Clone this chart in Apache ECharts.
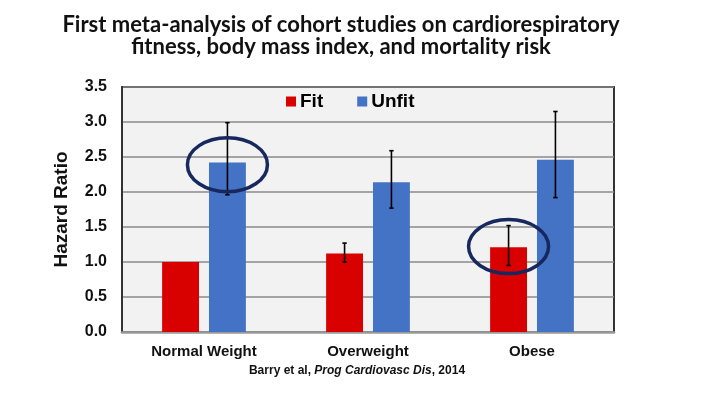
<!DOCTYPE html>
<html>
<head>
<meta charset="utf-8">
<script src="https://cdn.jsdelivr.net/npm/echarts@6/dist/echarts.min.js"></script>
<style>
html,body{margin:0;padding:0;background:#fff;}
#chart{width:703px;height:393px;}
</style>
</head>
<body>
<div id="chart"></div>
<script>
// ---- data ----
var categories = ['Normal Weight', 'Overweight', 'Obese'];
var seriesNames = ['Fit', 'Unfit'];
var fitValues = [1.0, 1.12, 1.21];
var unfitValues = [2.42, 2.14, 2.46];
var fitLow = [null, 1.0, 0.95];
var fitHigh = [null, 1.27, 1.52];
var unfitLow = [1.96, 1.77, 1.92];
var unfitHigh = [2.99, 2.59, 3.15];
var yTicks = [0, 0.5, 1.0, 1.5, 2.0, 2.5, 3.0, 3.5];
var highlightCats = [0, 2];
var highlightSeries = [1, 0];      // 0 = Fit, 1 = Unfit
var highlightValues = [2.39, 1.22];
var titleLines = ['First meta-analysis of cohort studies on cardiorespiratory',
                  'fitness, body mass index, and mortality risk'];

// ---- layout / style constants ----
var BAR_W = 0.225, BAR_GAP = 0.27;
function barOffset(band, idx) {
  var w = band * BAR_W;
  var off = (w + w * BAR_GAP) / 2;
  return idx === 0 ? -off : off;
}

function errData(lo, hi) {
  var d = [];
  for (var i = 0; i < categories.length; i++) {
    if (lo[i] != null && hi[i] != null) d.push([i, lo[i], hi[i]]);
  }
  return d;
}

function errRender(idx) {
  return function (params, api) {
    var c = api.value(0), lo = api.value(1), hi = api.value(2);
    var band = api.size([1, 0])[0];
    var off = barOffset(band, idx);
    var pHi = api.coord([c, hi]);
    var pLo = api.coord([c, lo]);
    var x = pHi[0] + off;
    var cap = 2.2;
    var st = { stroke: '#000', lineWidth: 1.6 };
    return {
      type: 'group',
      children: [
        { type: 'line', shape: { x1: x, y1: pHi[1], x2: x, y2: pLo[1] }, style: st },
        { type: 'line', shape: { x1: x - cap, y1: pHi[1], x2: x + cap, y2: pHi[1] }, style: st },
        { type: 'line', shape: { x1: x - cap, y1: pLo[1], x2: x + cap, y2: pLo[1] }, style: st }
      ]
    };
  };
}

var ellipseData = [];
for (var k = 0; k < highlightCats.length; k++) {
  ellipseData.push([highlightCats[k], highlightValues[k], highlightSeries[k]]);
}

var chart = echarts.init(document.getElementById('chart'), null, { renderer: 'canvas' });
var option = {
  backgroundColor: '#ffffff',
  animation: false,
  graphic: [
    { type: 'text', x: 341, y: 24.5, style: { text: titleLines[0], fontFamily: 'Lato', fontWeight: 'bold', fontSize: 22, fill: '#111', textAlign: 'center', textVerticalAlign: 'middle' } },
    { type: 'text', x: 341, y: 46.5, style: { text: titleLines[1], fontFamily: 'Lato', fontWeight: 'bold', fontSize: 22, fill: '#111', textAlign: 'center', textVerticalAlign: 'middle' } },
    { type: 'text', x: 357, y: 371, style: {
        text: '{b|Barry et al, }{i|Prog Cardiovasc Dis}{b|, 2014}',
        rich: {
          b: { fontFamily: 'Liberation Sans', fontWeight: 'bold', fontSize: 12, fill: '#111' },
          i: { fontFamily: 'Liberation Sans', fontWeight: 'bold', fontStyle: 'italic', fontSize: 12, fill: '#111' }
        },
        textAlign: 'center', textVerticalAlign: 'middle' } }
  ],
  legend: {
    data: seriesNames,
    left: 286,
    top: 92,
    padding: 0,
    itemWidth: 10,
    itemHeight: 10,
    itemGap: 34,
    icon: 'rect',
    textStyle: { fontFamily: 'Liberation Sans', fontWeight: 'bold', fontSize: 19, color: '#000', padding: [0, 0, 0, -1] }
  },
  grid: {
    left: 122, top: 87, width: 492, height: 245,
    show: true, backgroundColor: '#f2f2f2', borderColor: '#333', borderWidth: 2,
    containLabel: false
  },
  xAxis: {
    type: 'category',
    data: categories,
    axisTick: { show: false },
    axisLine: { show: true, lineStyle: { color: '#999', width: 2.5 } },
    axisLabel: { fontFamily: 'Liberation Sans', fontWeight: 'bold', fontSize: 15, color: '#111', margin: 12 }
  },
  yAxis: {
    type: 'value',
    min: yTicks[0],
    max: yTicks[yTicks.length - 1],
    interval: yTicks[1] - yTicks[0],
    name: 'Hazard Ratio',
    nameLocation: 'middle',
    nameGap: 51,
    nameTextStyle: { fontFamily: 'Liberation Sans', fontWeight: 'bold', fontSize: 19, color: '#111' },
    axisLine: { show: true, lineStyle: { color: '#333', width: 2 } },
    axisTick: { show: false },
    splitLine: { lineStyle: { color: '#8a8a8a', width: 1.5 } },
    axisLabel: {
      fontFamily: 'Liberation Sans', fontWeight: 'bold', fontSize: 16, color: '#111', margin: 15,
      formatter: function (v) { return v.toFixed(1); }
    }
  },
  series: [
    {
      name: seriesNames[0], type: 'bar', data: fitValues,
      barWidth: (BAR_W * 100) + '%', barGap: (BAR_GAP * 100) + '%',
      itemStyle: { color: '#d90000' }
    },
    {
      name: seriesNames[1], type: 'bar', data: unfitValues,
      barWidth: (BAR_W * 100) + '%', barGap: (BAR_GAP * 100) + '%',
      itemStyle: { color: '#4472c4' }
    },
    {
      type: 'custom', name: 'fitErr', data: errData(fitLow, fitHigh),
      renderItem: errRender(0), encode: { x: 0, y: [1, 2] }, z: 5, silent: true, clip: false
    },
    {
      type: 'custom', name: 'unfitErr', data: errData(unfitLow, unfitHigh),
      renderItem: errRender(1), encode: { x: 0, y: [1, 2] }, z: 5, silent: true, clip: false
    },
    {
      type: 'custom', name: 'highlight', data: ellipseData, encode: { x: 0, y: 1 }, z: 6, silent: true, clip: false,
      renderItem: function (params, api) {
        var c = api.value(0), v = api.value(1), s = api.value(2);
        var band = api.size([1, 0])[0];
        var p = api.coord([c, v]);
        return {
          type: 'ellipse',
          shape: { cx: p[0] + barOffset(band, s), cy: p[1], rx: 40, ry: 27 },
          style: { fill: 'none', stroke: '#17285e', lineWidth: 3.5 }
        };
      }
    }
  ]
};
chart.setOption(option);
</script>
</body>
</html>
